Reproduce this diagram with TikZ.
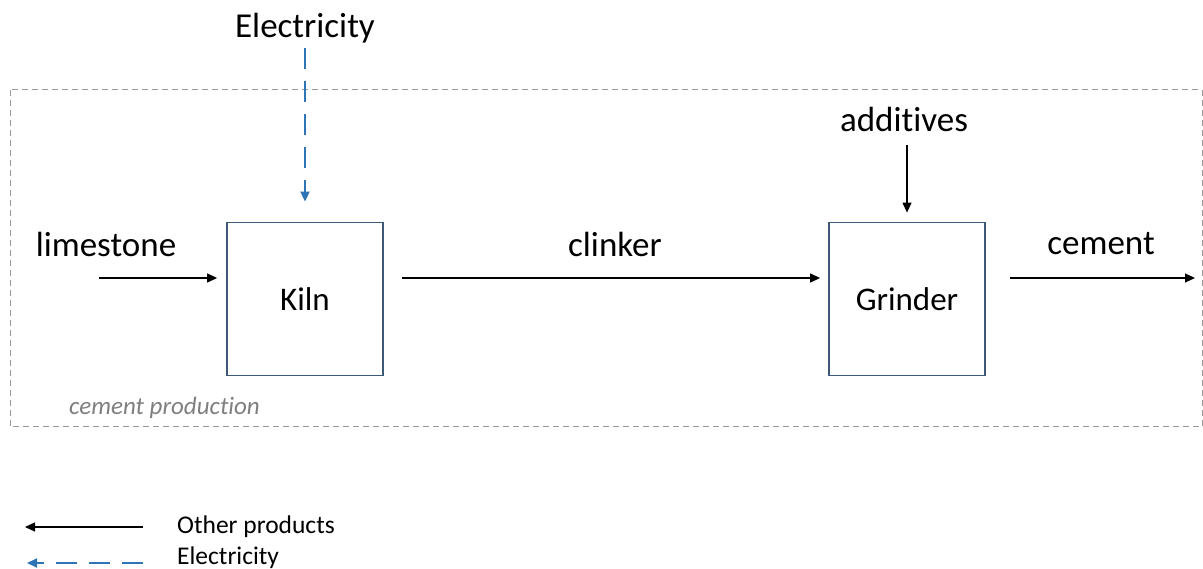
\documentclass[tikz,border=0pt]{standalone}
\usepackage{fontspec}
\setmainfont{Carlito}[Ligatures=NoCommon]
\usetikzlibrary{arrows.meta}
\definecolor{boxline}{HTML}{3C5A78}
\definecolor{elecblue}{HTML}{2E75B6}
\definecolor{framegrey}{HTML}{9A9A9A}
\definecolor{notegrey}{HTML}{7F7F7F}
\begin{document}
\begin{tikzpicture}[x=1pt,y=-1pt,
  procbox/.style={draw=boxline,line width=1.8pt,minimum width=156pt,minimum height=153pt,inner sep=0pt,
    font=\fontsize{33}{38}\selectfont},
  flowlabel/.style={inner sep=0pt,font=\fontsize{35}{40}\selectfont},
  flow/.style={-{Triangle[length=10pt,width=9pt]},line width=1.2pt,black},
  elecflow/.style={-{Triangle[length=10pt,width=9pt]},line width=1.8pt,elecblue,dash pattern=on 21pt off 12pt},
  legendtext/.style={anchor=west,inner sep=0pt,font=\fontsize{25.5}{30}\selectfont}]
\useasboundingbox (0,0) rectangle (1203,569);

% system boundary
\draw[framegrey,line width=1pt,dash pattern=on 6pt off 4pt] (10,90) rectangle (1202,427);
\node[anchor=west,inner sep=0pt,text=notegrey,font=\fontsize{25}{30}\selectfont\itshape] (sys) at (69,408) {cement production};

% process boxes
\node[procbox] (kiln) at (305,299) {Kiln};
\node[procbox] (grinder) at (907,299) {Grinder};

% labels
\node[flowlabel] (elec) at (305,28) {Electricity};
\node[flowlabel] (lime) at (106,244) {limestone};
\node[flowlabel] (clink) at (615,244) {clinker};
\node[flowlabel] (cem) at (1101,244) {cement};
\node[flowlabel] (add) at (904,119) {additives};

% free ends of the flows
\coordinate (limein) at (99,278);
\coordinate (cemout) at (1195,278);
\coordinate (addin) at (907,145);
\coordinate (elecin) at (305,48);

% flows (the flow line sits 21pt above the box centres)
\draw[flow] (limein) -- ([xshift=-9pt,yshift=21pt]kiln.west);
\draw[flow] ([xshift=18pt,yshift=21pt]kiln.east) -- ([xshift=-8pt,yshift=21pt]grinder.west);
\draw[flow] ([xshift=24pt,yshift=21pt]grinder.east) -- (cemout);
\draw[flow] (addin) -- ([yshift=9pt]grinder.north);
\draw[elecflow] (elecin) -- ([yshift=20pt]kiln.north);

% legend
\coordinate (lg1a) at (143,527);
\coordinate (lg1b) at (25,527);
\coordinate (lg2a) at (143,563);
\coordinate (lg2b) at (27,563);
\draw[flow] (lg1a) -- (lg1b);
\draw[elecflow] (lg2a) -- (lg2b);
\node[legendtext] (lgt1) at (177,527) {Other products};
\node[legendtext] (lgt2) at (177,558) {Electricity};
\end{tikzpicture}
\end{document}
